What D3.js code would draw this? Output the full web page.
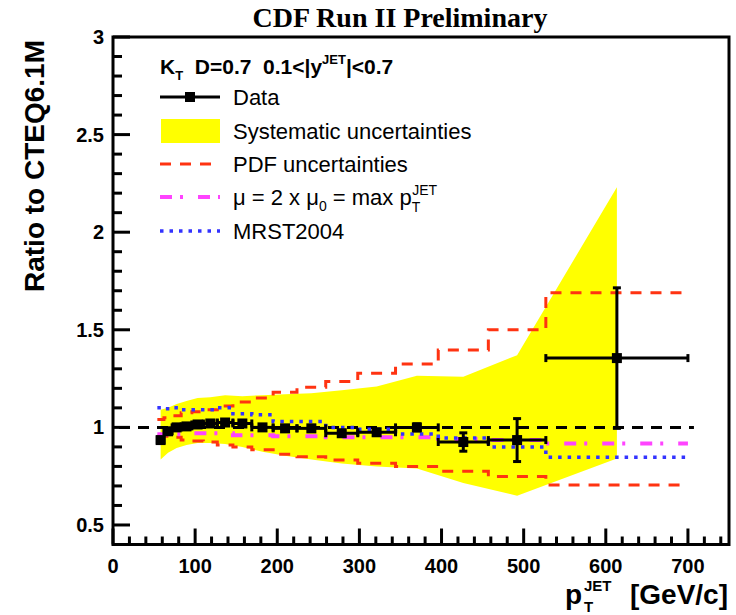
<!DOCTYPE html>
<html><head><meta charset="utf-8">
<script src="https://cdn.jsdelivr.net/npm/d3@7/dist/d3.min.js"></script>
<style>body{margin:0;background:#fff}svg{display:block}</style>
</head><body>
<script>
// ---- data ----
const binLo = [54,62,72,83,96,110,127,146,169,195,224,259,298,344,396,457,527];
const binHi = [62,72,83,96,110,127,146,169,195,224,259,298,344,396,457,527,700];
const ptCenter = [58,67,77.5,89.5,103,118.5,136.5,157.5,182,209.5,241.5,278.5,321,370,426.5,492,613.5];
const dataRatio = [0.935,0.98,1.0,1.005,1.015,1.02,1.025,1.02,1.0,0.995,0.995,0.97,0.975,1.0,0.925,0.935,1.355];
const dataErr = [0.012,0.01,0.01,0.01,0.01,0.01,0.01,0.01,0.01,0.012,0.012,0.012,0.014,0.018,0.047,0.11,0.36];
const sysUpper = [1.09,1.10,1.12,1.135,1.15,1.155,1.165,1.16,1.165,1.17,1.175,1.19,1.21,1.265,1.26,1.37,2.23];
const sysLower = [0.835,0.87,0.895,0.91,0.92,0.92,0.915,0.90,0.875,0.855,0.835,0.815,0.80,0.79,0.715,0.65,0.84];
const pdfUpper = [1.04,1.05,1.06,1.075,1.08,1.09,1.11,1.13,1.15,1.18,1.205,1.235,1.277,1.325,1.396,1.50,1.69];
const pdfLower = [0.955,0.955,0.95,0.935,0.93,0.925,0.91,0.90,0.885,0.862,0.85,0.833,0.816,0.80,0.775,0.748,0.705];
const muScale = [0.965,0.965,0.965,0.965,0.97,0.97,0.97,0.96,0.96,0.955,0.955,0.95,0.95,0.95,0.94,0.935,0.918];
const mrst = [1.10,1.095,1.10,1.09,1.09,1.09,1.10,1.07,1.065,1.03,1.03,1.0,0.99,0.966,0.946,0.90,0.847];
const xTicks = [0,100,200,300,400,500,600,700];
const yTicks = [0.5,1,1.5,2,2.5,3];

// ---- layout ----
const W = 736, H = 615;
const svg = d3.select("body").append("svg").attr("width", W).attr("height", H);
svg.append("rect").attr("width", W).attr("height", H).attr("fill", "#fff");
const x = d3.scaleLinear().domain([0,750]).range([113,729]);
const y = d3.scaleLinear().domain([0.4,3]).range([544.5,37]);
const FONT = "'Liberation Sans', Arial, Helvetica, sans-serif";

const RED = "#ff3311", MAG = "#ff44ff", BLUE = "#3333ff";

// systematic band
const bandPts = ptCenter.map((p,i)=>[p,sysUpper[i]]).concat(ptCenter.map((p,i)=>[p,sysLower[i]]).reverse());
svg.append("path").attr("d", d3.line().x(d=>x(d[0])).y(d=>y(d[1]))(bandPts)+"Z")
  .attr("fill", "#ffff00").attr("stroke", "none");

// step helper
function steps(vals){ const pts=[]; vals.forEach((v,i)=>{pts.push([binLo[i],v]);pts.push([binHi[i],v]);}); return pts; }
const stepLine = d3.line().x(d=>x(d[0])).y(d=>y(d[1]));

// reference line at 1
svg.append("path").attr("d", stepLine([[0,1],[700,1]]))
  .attr("stroke","#000").attr("stroke-width",3).attr("stroke-dasharray","11,8").attr("fill","none")
  .attr("transform","translate(6,0)");

// curves
function drawStep(vals, color, dash, w){
  svg.append("path").attr("d", stepLine(steps(vals))).attr("fill","none")
    .attr("stroke",color).attr("stroke-width",w).attr("stroke-dasharray",dash);
}
drawStep(pdfUpper, RED, "11,9", 3);
drawStep(pdfLower, RED, "11,9", 3);
drawStep(muScale, MAG, "12,8,3,15", 4);
drawStep(mrst, BLUE, "3.5,6", 3.5);

// data points
const g = svg.append("g").attr("stroke","#000").attr("stroke-width",3);
ptCenter.forEach((p,i)=>{
  const cx = x(p), cy = y(dataRatio[i]);
  const yl = y(dataRatio[i]-dataErr[i]), yh = y(dataRatio[i]+dataErr[i]);
  g.append("line").attr("x1",x(binLo[i])).attr("x2",x(binHi[i])).attr("y1",cy).attr("y2",cy);
  g.append("line").attr("x1",cx).attr("x2",cx).attr("y1",yl).attr("y2",yh);
  g.append("line").attr("x1",x(binLo[i])).attr("x2",x(binLo[i])).attr("y1",cy-4).attr("y2",cy+4);
  g.append("line").attr("x1",x(binHi[i])).attr("x2",x(binHi[i])).attr("y1",cy-4).attr("y2",cy+4);
  g.append("line").attr("x1",cx-4).attr("x2",cx+4).attr("y1",yl).attr("y2",yl);
  g.append("line").attr("x1",cx-4).attr("x2",cx+4).attr("y1",yh).attr("y2",yh);
  svg.append("rect").attr("x",cx-5).attr("y",cy-5).attr("width",10).attr("height",10).attr("fill","#000");
});

// frame & ticks
const ax = svg.append("g").attr("stroke","#000").attr("stroke-width",3);
for (let v=0; v<=750; v+=20){
  const major = v%100===0;
  ax.append("line").attr("x1",x(v)).attr("x2",x(v)).attr("y1",y(0.4)).attr("y2",y(0.4)-(major?16:8));
}
for (let k=4; k<=30; k++){
  const v = k/10, major = k%5===0;
  ax.append("line").attr("x1",x(0)).attr("x2",x(0)+(major?17:9)).attr("y1",y(v)).attr("y2",y(v));
}
svg.append("rect").attr("x",x(0)).attr("y",y(3)).attr("width",x(750)-x(0)).attr("height",y(0.4)-y(3))
  .attr("fill","none").attr("stroke","#000").attr("stroke-width",3);

// tick labels
svg.selectAll(".xl").data(xTicks).join("text").attr("x",d=>x(d)).attr("y",573)
  .attr("text-anchor","middle").attr("font-family",FONT).attr("font-weight","bold").attr("font-size",20).text(d=>d);
svg.selectAll(".yl").data(yTicks).join("text").attr("x",104).attr("y",d=>y(d)+7)
  .attr("text-anchor","end").attr("font-family",FONT).attr("font-weight","bold").attr("font-size",20).text(d=>d);

// axis titles
svg.append("text").attr("transform","translate(44,166) rotate(-90)").attr("text-anchor","middle")
  .attr("font-family",FONT).attr("font-weight","bold").attr("font-size",28).text("Ratio to CTEQ6.1M");
const xt = svg.append("g").attr("font-family",FONT).attr("font-weight","bold");
xt.append("text").attr("x",565).attr("y",604).attr("font-size",28).text("p");
xt.append("text").attr("x",584).attr("y",612).attr("font-size",15).text("T");
xt.append("text").attr("x",584).attr("y",591).attr("font-size",15).text("JET");
xt.append("text").attr("x",728).attr("y",604).attr("text-anchor","end").attr("font-size",28).text("[GeV/c]");

// title
svg.append("text").attr("x",400).attr("y",27).attr("text-anchor","middle")
  .attr("font-family","'Liberation Serif', 'Times New Roman', serif").attr("font-weight","bold")
  .attr("font-size",28).text("CDF Run II Preliminary");

// legend header
const hd = svg.append("text").attr("x",160).attr("y",74).attr("font-family",FONT).attr("font-weight","bold").attr("font-size",21);
hd.append("tspan").text("K");
hd.append("tspan").attr("font-size",13).attr("dy",6).text("T");
hd.append("tspan").attr("dy",-6).text("\u00a0 D=0.7 \u00a00.1<|y");
hd.append("tspan").attr("font-size",13).attr("dy",-10).text("JET");
hd.append("tspan").attr("dy",10).text("|<0.7");

// legend entries
const LX0 = 160, LX1 = 220, TX = 233;
const rows = [97,131,164,197,231];
svg.append("line").attr("x1",LX0).attr("x2",LX1).attr("y1",rows[0]).attr("y2",rows[0]).attr("stroke","#000").attr("stroke-width",3);
svg.append("rect").attr("x",(LX0+LX1)/2-5).attr("y",rows[0]-5).attr("width",10).attr("height",10).attr("fill","#000");
svg.append("rect").attr("x",LX0+1).attr("y",rows[1]-12).attr("width",LX1-LX0-1).attr("height",24).attr("fill","#ffff00");
svg.append("line").attr("x1",LX0).attr("x2",LX1).attr("y1",rows[2]).attr("y2",rows[2]).attr("stroke",RED).attr("stroke-width",3).attr("stroke-dasharray","11,9");
svg.append("line").attr("x1",LX0).attr("x2",LX1).attr("y1",rows[3]).attr("y2",rows[3]).attr("stroke",MAG).attr("stroke-width",4).attr("stroke-dasharray","12,8,3,15");
svg.append("line").attr("x1",LX0).attr("x2",LX1).attr("y1",rows[4]).attr("y2",rows[4]).attr("stroke",BLUE).attr("stroke-width",3.5).attr("stroke-dasharray","3.5,6");

const lt = (yy)=>svg.append("text").attr("x",TX).attr("y",yy+8).attr("font-family",FONT).attr("font-size",22);
lt(rows[0]).text("Data");
lt(rows[1]).text("Systematic uncertainties");
lt(rows[2]).text("PDF uncertainties");
const mu = lt(rows[3]);
mu.append("tspan").text("\u03bc = 2 x \u03bc");
mu.append("tspan").attr("font-size",14).attr("dy",6).text("0");
mu.append("tspan").attr("dy",-6).text(" = max p");
mu.append("tspan").attr("font-size",14).attr("dy",7).text("T");
mu.append("tspan").attr("font-size",14).attr("dx",-8).attr("dy",-17).text("JET");
lt(rows[4]).text("MRST2004");
</script>
</body></html>
